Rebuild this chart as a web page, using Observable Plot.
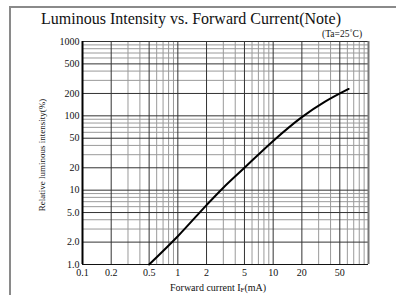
<!DOCTYPE html>
<html>
<head>
<meta charset="utf-8">
<script src="https://cdn.jsdelivr.net/npm/d3@7"></script>
<script src="https://cdn.jsdelivr.net/npm/@observablehq/plot@0.6"></script>
<style>
  html, body { margin: 0; padding: 0; background: #fff; }
  #wrap { position: relative; width: 396px; height: 295px; overflow: hidden; font-family: "Liberation Serif", "Times New Roman", serif; color: #111; }
  #frame { position: absolute; left: 9px; top: 6px; width: 400px; height: 300px; border-left: 2px solid #8a8a8a; border-top: 2px solid #8a8a8a; }
  #title { position: absolute; left: 0; width: 382px; top: 10px; text-align: center; font-size: 16px; line-height: 18px; white-space: nowrap; }
  #note { position: absolute; left: 322px; top: 29px; font-size: 9.5px; line-height: 10px; white-space: nowrap; }
  #chart { position: absolute; left: 0; top: 32px; }
  #xlab { position: absolute; left: 170px; top: 282px; font-size: 10px; white-space: nowrap; }
  #ylab { position: absolute; left: 42px; top: 155px; font-size: 9px; white-space: nowrap; transform: translate(-50%, -50%) rotate(-90deg); }
  sub { font-size: 7px; vertical-align: -1px; }
</style>
</head>
<body>
<div id="wrap">
  <div id="frame"></div>
  <div id="title">Luminous Intensity vs. Forward Current(Note)</div>
  <div id="note">(Ta=25˚C)</div>
  <div id="chart"></div>
  <div id="ylab">Relative luminous intensity(%)</div>
  <div id="xlab">Forward current I<sub>F</sub>(mA)</div>
</div>
<script>
// Curve (forward current mA, relative intensity %)
const current   = [0.5, 1.0, 2.0, 3.0, 5.0, 10, 20, 35, 62];
const intensity = [1.0, 2.4, 6.3, 10.8, 20, 46, 96, 155, 230];

// Tick labels
const xTicks = [0.1, 0.2, 0.5, 1, 2, 5, 10, 20, 50];
const xTickLabels = ["0.1", "0.2", "0.5", "1", "2", "5", "10", "20", "50"];
const yTicks = [1, 2, 5, 10, 20, 50, 100, 200, 500, 1000];
const yTickLabels = ["1.0", "2.0", "5.0", "10", "20", "50", "100", "200", "500", "1000"];

// Log grid lines
const xGrid = [0.1,0.2,0.3,0.4,0.5,0.6,0.7,0.8,0.9,1,2,3,4,5,6,7,8,9,10,20,30,40,50,60,70,80,90,100];
const yGrid = [1,2,3,4,5,6,7,8,9,10,20,30,40,50,60,70,80,90,100,200,300,400,500,600,700,800,900,1000];

const isMajor = v => { const m = v / Math.pow(10, Math.floor(Math.log10(v) + 1e-9)); return Math.abs(m-1)<1e-6 || Math.abs(m-2)<1e-6 || Math.abs(m-5)<1e-6; };

const data = current.map((c, i) => ({x: c, y: intensity[i]}));
const xt = xTicks.map((v, i) => ({v, label: xTickLabels[i]}));
const yt = yTicks.map((v, i) => ({v, label: yTickLabels[i]}));

const chart = Plot.plot({
  width: 396,
  height: 263,
  marginLeft: 82,
  marginRight: 28,
  marginTop: 9,
  marginBottom: 31,
  style: { fontFamily: "'Liberation Serif', 'Times New Roman', serif", fontSize: "10px", color: "#111", background: "transparent" },
  x: { type: "log", domain: [0.1, 100], label: null, axis: null },
  y: { type: "log", domain: [1, 1000], label: null, axis: null },
  marks: [
    Plot.ruleX(xGrid.filter(v => !isMajor(v)), { stroke: "#9a9a9a", strokeWidth: 1 }),
    Plot.ruleY(yGrid.filter(v => !isMajor(v)), { stroke: "#9a9a9a", strokeWidth: 1 }),
    Plot.ruleX(xGrid.filter(isMajor), { stroke: "#333", strokeWidth: 1 }),
    Plot.ruleY(yGrid.filter(isMajor), { stroke: "#333", strokeWidth: 1 }),
    Plot.ruleX([0.1], { stroke: "#000", strokeWidth: 2 }),
    Plot.ruleX([100], { stroke: "#777", strokeWidth: 2 }),
    Plot.ruleY([1], { stroke: "#111", strokeWidth: 1.2 }),
    Plot.text(xt, { x: "v", text: "label", frameAnchor: "bottom", dy: 11, fill: "#111", fontSize: 10 }),
    Plot.text(yt, { y: "v", text: "label", frameAnchor: "left", textAnchor: "end", dx: -3, fill: "#111", fontSize: 10 }),
    Plot.line(data, { x: "x", y: "y", stroke: "#000", strokeWidth: 2, curve: "catmull-rom" })
  ]
});
document.getElementById("chart").appendChild(chart);
</script>
</body>
</html>
